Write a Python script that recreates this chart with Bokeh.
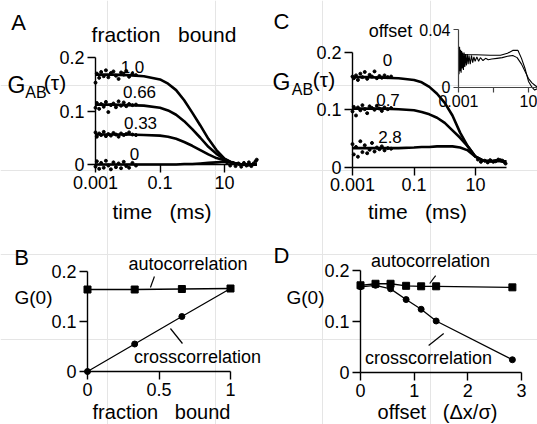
import math
from bokeh.plotting import figure
from bokeh.models import (Range1d, LinearAxis, LogAxis, LogScale, LinearScale, FixedTicker,
                          CustomJSTickFormatter, Label)
from bokeh.embed import file_html
from bokeh.resources import INLINE

# ---------------- data ----------------
# Panel A: fitted cross-correlation curves for several bound fractions
t_fit = [0.001, 0.00316, 0.01, 0.0316, 0.1, 0.178, 0.316, 0.562, 1.0, 1.78, 3.16, 5.62,
         10.0, 17.8, 31.6, 56.2, 100.0]
A_fit_100 = [0.168, 0.168, 0.167, 0.165, 0.159, 0.151, 0.139, 0.120, 0.097, 0.073, 0.048, 0.027,
             0.011, 0.003, 0.000, -0.001, 0.000]
A_fit_066 = [0.112, 0.112, 0.111, 0.110, 0.106, 0.101, 0.093, 0.081, 0.066, 0.050, 0.033, 0.020,
             0.010, 0.003, 0.000, -0.001, 0.000]
A_fit_033 = [0.056, 0.056, 0.056, 0.055, 0.054, 0.052, 0.048, 0.042, 0.035, 0.027, 0.019, 0.012,
             0.008, 0.003, 0.000, -0.001, 0.000]
A_fit_000 = [0.0, 0.0, 0.0, 0.0, 0.0, 0.0, 0.0, 0.001, 0.001, 0.002, 0.003, 0.004,
             0.005, 0.003, 0.001, 0.0, 0.0]
A_labels = ["1.0", "0.66", "0.33", "0"]

# noisy early data points
t_dots = [0.001, 0.0011, 0.0013, 0.0015, 0.0018, 0.0021, 0.0025, 0.003, 0.0036, 0.0043, 0.0052,
          0.0062, 0.0075, 0.009, 0.011, 0.014, 0.018]
A_dots_100 = [0.153, 0.170, 0.162, 0.173, 0.165, 0.176, 0.163, 0.171, 0.174, 0.166, 0.160, 0.172,
              0.168, 0.175, 0.164, 0.170, 0.167]
A_dots_066 = [0.106, 0.115, 0.104, 0.113, 0.108, 0.117, 0.098, 0.111, 0.114, 0.107, 0.118, 0.110,
              0.116, 0.109, 0.113, 0.111, 0.112]
A_dots_033 = [0.060, 0.052, 0.058, 0.055, 0.061, 0.053, 0.057, 0.054, 0.059, 0.056, 0.052, 0.058,
              0.055, 0.057, 0.060, 0.056, 0.055]
A_dots_000 = [-0.004, 0.006, -0.008, 0.003, -0.006, 0.007, -0.002, -0.009, 0.004, -0.005, 0.002,
              -0.007, 0.005, -0.003, -0.006, 0.003, -0.002]
t_tail = [12, 15, 18, 22, 27, 33, 40, 48, 57, 68, 80, 92, 100]
A_tail = [0.004, -0.002, 0.003, -0.003, 0.002, -0.004, 0.003, -0.002, 0.004, -0.003, 0.002,
          0.006, 0.009]

# Panel B: G(0) vs fraction bound
fraction = [0.0, 0.33, 0.66, 1.0]
B_auto = [0.164, 0.164, 0.165, 0.166]
B_cross = [0.0, 0.055, 0.110, 0.166]

# Panel C: cross-correlation curves for several focal offsets
C_fit_0 = [0.157, 0.157, 0.156, 0.155, 0.152, 0.148, 0.140, 0.128, 0.112, 0.090, 0.060, 0.036,
           0.018, 0.011, 0.010, 0.012, 0.009]
C_fit_07 = [0.102, 0.102, 0.102, 0.101, 0.099, 0.096, 0.092, 0.086, 0.077, 0.064, 0.051, 0.036,
            0.018, 0.011, 0.010, 0.011, 0.009]
C_fit_28 = [0.033, 0.033, 0.033, 0.033, 0.034, 0.035, 0.035, 0.036, 0.036, 0.036, 0.034, 0.029,
            0.018, 0.011, 0.010, 0.011, 0.009]
C_labels = ["0", "0.7", "2.8"]
C_dots_0 = [0.158, 0.155, 0.160, 0.152, 0.163, 0.157, 0.166, 0.154, 0.161, 0.158, 0.167, 0.155,
            0.159, 0.156, 0.160, 0.157, 0.158]
C_dots_07 = [0.097, 0.105, 0.090, 0.104, 0.099, 0.108, 0.101, 0.094, 0.106, 0.103, 0.100, 0.107,
             0.102, 0.098, 0.104, 0.101, 0.103]
C_dots_28 = [0.040, 0.022, 0.035, 0.018, 0.045, 0.026, 0.038, 0.024, 0.030, 0.042, 0.027, 0.034,
             0.031, 0.036, 0.029, 0.033, 0.032]
t_tail_C = [12, 15, 20, 25, 30, 38, 45, 55, 65, 75, 85, 95]
C_tail = [0.013, 0.009, 0.011, 0.008, 0.012, 0.009, 0.010, 0.013, 0.012, 0.011, 0.009, 0.006]

# Inset of C
I_t1 = [0.001, 0.01, 0.063, 0.251, 0.631, 1.26, 2.51, 3.98, 6.31, 10.0, 15.8, 22.4, 31.6]
I_g1 = [0.0225, 0.0225, 0.0222, 0.0222, 0.0235, 0.0255, 0.0255, 0.020, 0.013, 0.004, 0.000,
        -0.002, -0.001]
I_t2 = [0.001, 0.00107, 0.00115, 0.00123, 0.00132, 0.00141, 0.00151, 0.00162, 0.00174, 0.00191,
        0.00209, 0.00229, 0.00251, 0.00282, 0.00316, 0.00355, 0.00398, 0.00468, 0.0055, 0.00646,
        0.00759, 0.00891, 0.0112, 0.0141, 0.0178, 0.0251, 0.0355, 0.0501, 0.0794, 0.158,
        0.316, 0.631, 1.26, 2.24, 3.98, 6.31, 10.0, 15.8, 25.1, 31.6]
I_g2 = [0.027, 0.009, 0.028, 0.011, 0.026, 0.010, 0.025, 0.013, 0.024, 0.012,
        0.024, 0.014, 0.023, 0.015, 0.023, 0.016, 0.022, 0.016, 0.022, 0.017,
        0.021, 0.018, 0.021, 0.018, 0.0205, 0.0185, 0.020, 0.019, 0.0195, 0.0200,
        0.0205, 0.0215, 0.022, 0.0205, 0.016, 0.011, 0.006, 0.003, 0.001, 0.0]

# Panel D: G(0) vs offset
offset = [0.0, 0.28, 0.56, 0.85, 1.13, 1.41, 2.83]
D_auto = [0.171, 0.174, 0.174, 0.170, 0.169, 0.169, 0.167]
D_cross = [0.168, 0.171, 0.164, 0.143, 0.124, 0.101, 0.025]

ticks_time = [0.001, 0.1, 10]
ticks_G = [0, 0.1, 0.2]

# ---------------- layout helpers ----------------
W, H = 537, 424
FONT = "Liberation Sans"
NB = "\u00a0"


def lin_range(p1, v1, p2, v2, lo, hi):
    k = (v2 - v1) / (p2 - p1)
    a = v1 + (lo - p1) * k
    b = v1 + (hi - p1) * k
    return Range1d(start=min(a, b), end=max(a, b))


def log_range(p1, v1, p2, v2, lo, hi):
    r = lin_range(p1, math.log10(v1), p2, math.log10(v2), lo, hi)
    return Range1d(start=10 ** r.start, end=10 ** r.end)


def xr_lin(p1, v1, p2, v2):
    return lin_range(p1, v1, p2, v2, 0, W)


def xr_log(p1, v1, p2, v2):
    return log_range(p1, v1, p2, v2, 0, W)


def yr_lin(p1, v1, p2, v2):
    return lin_range(p1, v1, p2, v2, 0, H)


p = figure(width=W, height=H, output_backend="svg", toolbar_location=None,
           x_axis_location=None, y_axis_location=None, title_location=None,
           x_range=Range1d(0, 1), y_range=Range1d(0, 1), min_border=0)
p.outline_line_color = None
p.background_fill_color = "white"
p.border_fill_color = "white"

p.extra_x_ranges = {
    "A": xr_log(95, 0.001, 224, 10),
    "B": xr_lin(87, 0, 230, 1),
    "C": xr_log(352, 0.001, 475, 10),
    "D": xr_lin(360, 0, 521, 3),
    "I": xr_log(458, 0.001, 528, 10),
}
p.extra_x_scales = {"A": LogScale(), "C": LogScale(), "I": LogScale(),
                    "B": LinearScale(), "D": LinearScale()}
p.extra_y_ranges = {
    "A": yr_lin(164, 0, 57, 0.2),
    "B": yr_lin(371, 0, 271, 0.2),
    "C": yr_lin(166.5, 0, 52, 0.2),
    "D": yr_lin(372, 0, 270, 0.2),
    "I": yr_lin(86.7, 0, 29, 0.04),
}

fmt_plain = CustomJSTickFormatter(code="return String(tick);")


def style_axis(ax, size="18px", color="black", lw=1.4, tick=8):
    ax.axis_line_color = color
    ax.axis_line_width = lw
    ax.major_tick_line_color = color
    ax.major_tick_line_width = lw
    ax.major_tick_out = tick
    ax.major_tick_in = 0
    ax.minor_tick_out = 0
    ax.minor_tick_in = 0
    ax.major_label_text_font = FONT
    ax.major_label_text_font_size = size
    ax.major_label_text_color = "black"
    ax.major_label_standoff = 3


def add_axes(name, xlog, xticks, xbounds, yticks, ybounds, x0, size="18px", color="black",
             lw=1.4, tick=8, xfmt=None):
    XA = LogAxis if xlog else LinearAxis
    xa = XA(x_range_name=name, y_range_name=name, fixed_location=0,
            bounds=xbounds, ticker=FixedTicker(ticks=xticks), formatter=xfmt or fmt_plain)
    ya = LinearAxis(x_range_name=name, y_range_name=name, fixed_location=x0,
                    bounds=ybounds, ticker=FixedTicker(ticks=yticks), formatter=fmt_plain)
    style_axis(xa, size, color, lw, tick)
    style_axis(ya, size, color, lw, tick)
    p.add_layout(xa, "below")
    p.add_layout(ya, "left")


add_axes("A", True, ticks_time, (0.001, 100), ticks_G, (0, 0.2), 0.001)
add_axes("B", False, [0, 0.5, 1], (0, 1), ticks_G, (0, 0.2), 0)
add_axes("C", True, ticks_time, (0.001, 100), ticks_G, (0, 0.2), 0.001)
add_axes("D", False, [0, 1, 2, 3], (0, 3), ticks_G, (0, 0.2), 0)
add_axes("I", True, ticks_time, (0.001, 31.6), [0, 0.04], (0, 0.04), 0.001, size="16px",
         color="#444444", lw=1.2, tick=5,
         xfmt=CustomJSTickFormatter(code="return tick == 0.1 ? '' : String(tick);"))

# ---------------- glyphs ----------------
kw = dict(color="black")
for fit, dots in [(A_fit_100, A_dots_100), (A_fit_066, A_dots_066), (A_fit_033, A_dots_033),
                  (A_fit_000, A_dots_000)]:
    p.line(t_fit, fit, line_width=2.6, x_range_name="A", y_range_name="A", **kw)
    p.scatter(t_dots, dots, size=3, x_range_name="A", y_range_name="A", **kw)
p.scatter(t_tail, A_tail, size=3, x_range_name="A", y_range_name="A", **kw)

for fit, dots in [(C_fit_0, C_dots_0), (C_fit_07, C_dots_07), (C_fit_28, C_dots_28)]:
    p.line(t_fit, fit, line_width=2.6, x_range_name="C", y_range_name="C", **kw)
    p.scatter(t_dots, dots, size=3, x_range_name="C", y_range_name="C", **kw)
p.scatter(t_tail_C, C_tail, size=3, x_range_name="C", y_range_name="C", **kw)

p.line(I_t1, I_g1, line_width=1.1, x_range_name="I", y_range_name="I", **kw)
p.line(I_t2, I_g2, line_width=1.1, x_range_name="I", y_range_name="I", **kw)

p.line(fraction, B_auto, line_width=1.3, x_range_name="B", y_range_name="B", **kw)
p.scatter(fraction, B_auto, marker="square", size=7, x_range_name="B", y_range_name="B", **kw)
p.line(fraction, B_cross, line_width=1.3, x_range_name="B", y_range_name="B", **kw)
p.scatter(fraction, B_cross, marker="circle", size=6, x_range_name="B", y_range_name="B", **kw)

p.line(offset, D_auto, line_width=1.3, x_range_name="D", y_range_name="D", **kw)
p.scatter(offset, D_auto, marker="square", size=7, x_range_name="D", y_range_name="D", **kw)
p.line(offset, D_cross, line_width=1.3, x_range_name="D", y_range_name="D", **kw)
p.scatter(offset, D_cross, marker="circle", size=6, x_range_name="D", y_range_name="D", **kw)

# leader lines (panel coordinates)
p.segment(x0=[0.468, 0.664], y0=[0.190, 0.056], x1=[0.44, 0.58], y1=[0.168, 0.086],
          line_width=1.2, x_range_name="B", y_range_name="B", **kw)
p.segment(x0=[1.40, 1.55], y0=[0.190, 0.0765], x1=[1.29, 1.27], y1=[0.1745, 0.053],
          line_width=1.2, x_range_name="D", y_range_name="D", **kw)


# ---------------- texts ----------------
def text(s, px, py, size="17px", align="center"):
    p.add_layout(Label(x=px, y=H - py, x_units="screen", y_units="screen", text=s,
                       text_font=FONT, text_font_size=size, text_align=align,
                       text_baseline="middle", text_color="black"))


for letter, px, py in [("A", 18, 22), ("B", 21, 257), ("C", 281, 21), ("D", 281, 255)]:
    text(letter, px, py, size="22px")

text("fraction" + NB * 3 + "bound", 163.5, 34, size="21px")
for s, px, py in zip(A_labels, [132, 139, 140, 134], [66, 91, 122, 153]):
    text(s, px, py, size="17px")
for s, px, py in zip(C_labels, [387, 387.5, 389.5], [59, 99.5, 136.5]):
    text(s, px, py, size="17px")
text("offset", 390, 30, size="18px")

for gx, abx, tx, dy in [(16, 35.5, 54.5, 0), (281, 302, 323.5, -3)]:
    text("G", gx, 84 + dy, size="23px")
    text("AB", abx, 92 + dy, size="16px")
    text("(τ)", tx, 82 + dy, size="21px")

text("time" + NB * 3 + "(ms)", 161.5, 210.5, size="21px")
text("time" + NB * 3 + "(ms)", 417, 210.5, size="21px")
text("fraction" + NB * 3 + "bound", 161, 411, size="20px")
text("offset" + NB * 3 + "(Δx/σ)", 437, 411, size="20px")
text("G(0)", 33, 297, size="19px")
text("G(0)", 305, 297, size="19px")
text("autocorrelation", 187.5, 263, size="18px")
text("crosscorrelation", 197, 356, size="18px")
text("autocorrelation", 430, 260, size="18px")
text("crosscorrelation", 428, 357, size="18px")

open("out.html", "w").write(file_html(p, INLINE))
